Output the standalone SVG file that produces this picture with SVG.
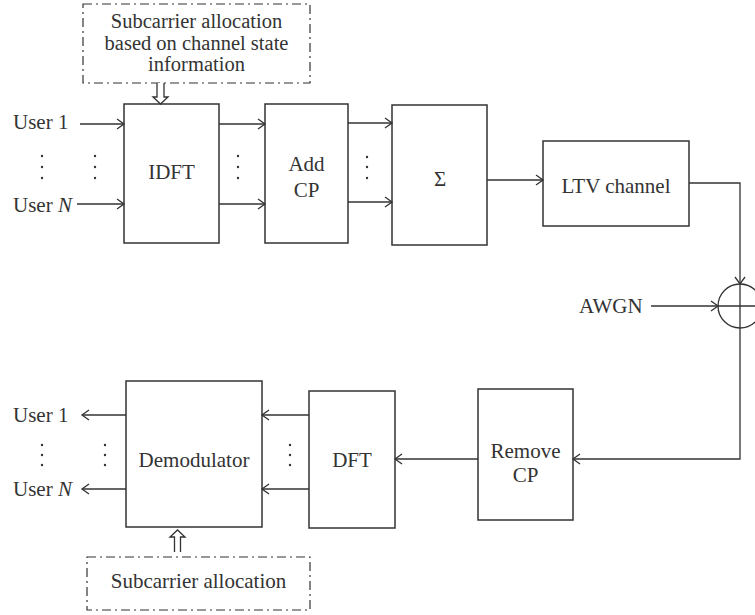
<svg xmlns="http://www.w3.org/2000/svg" width="755" height="615" viewBox="0 0 755 615" font-family="'Liberation Serif','Times New Roman',serif">
<style>
.box{fill:#fff;stroke:#333;stroke-width:1.5}
.dash{fill:none;stroke:#333;stroke-width:1.2;stroke-dasharray:9 4 2 4}
.ln{fill:none;stroke:#333;stroke-width:1.3}
.hol{fill:#fff;stroke:#333;stroke-width:1.3}
text{font-family:"Liberation Serif","Times New Roman",serif;font-size:21px;fill:#333}
.c{text-anchor:middle}
.s{font-size:20.5px}
.dot{fill:#333}
</style>
<defs>
<marker id="arr" markerUnits="userSpaceOnUse" markerWidth="12" markerHeight="12" refX="9" refY="6" orient="auto">
<path d="M2,1 L9,6 L2,11" fill="none" stroke="#333" stroke-width="1.3"/>
</marker>
</defs>
<rect width="755" height="615" fill="#fff"/>

<g id="alloc-top">
<rect class="dash" x="83" y="4" width="227" height="79"/>
<text class="c s" x="196.5" y="28">Subcarrier allocation</text>
<text class="c s" x="196.5" y="49.5">based on channel state</text>
<text class="c s" x="196.5" y="70.5">information</text>
</g>
<g id="idft">
<rect class="box" x="124" y="104" width="95" height="139"/>
<text class="c" x="171.5" y="179">IDFT</text>
</g>
<g id="addcp">
<rect class="box" x="265" y="104" width="83" height="139"/>
<text class="c" x="306.5" y="171">Add</text>
<text class="c" x="306.5" y="197">CP</text>
</g>
<g id="sum">
<rect class="box" x="392" y="105" width="95" height="140"/>
<text class="c" x="440" y="186">Σ</text>
</g>
<g id="ltv">
<rect class="box" x="543" y="141" width="146" height="85"/>
<text class="c" x="616" y="193">LTV channel</text>
</g>
<g id="adder">
<circle cx="740" cy="306" r="22" fill="#fff" stroke="#333" stroke-width="1.3"/>
<path class="ln" d="M718,306 H762 M740,284 V328"/>
</g>
<g id="awgn"><text x="579" y="313">AWGN</text></g>
<g id="removecp">
<rect class="box" x="478" y="389" width="95" height="131"/>
<text class="c" x="525.5" y="458">Remove</text>
<text class="c" x="525.5" y="482">CP</text>
</g>
<g id="dft">
<rect class="box" x="309" y="391" width="86" height="137"/>
<text class="c" x="352" y="467">DFT</text>
</g>
<g id="demod">
<rect class="box" x="126" y="381" width="136" height="146"/>
<text class="c" x="194" y="467">Demodulator</text>
</g>
<g id="alloc-bottom">
<rect class="dash" x="87" y="557" width="223" height="53"/>
<text class="c" x="198.5" y="588">Subcarrier allocation</text>
</g>
<g id="inputs">
<text x="13" y="129">User 1</text>
<text x="13" y="212">User <tspan font-style="italic">N</tspan></text>
</g>
<g id="outputs">
<text x="13" y="422">User 1</text>
<text x="13" y="496">User <tspan font-style="italic">N</tspan></text>
</g>

<g id="connectors">
<path class="hol" d="M157,83 V97 H153 L160.5,104 L168,97 H164 V83"/>
<path class="hol" d="M174.5,552 V537 H170 L177.5,530 L185,537 H180.5 V552"/>
<path class="ln" marker-end="url(#arr)" d="M80,124 H124"/>
<path class="ln" marker-end="url(#arr)" d="M77,204 H124"/>
<path class="ln" marker-end="url(#arr)" d="M219,124 H265"/>
<path class="ln" marker-end="url(#arr)" d="M219,204 H265"/>
<path class="ln" marker-end="url(#arr)" d="M348,123 H392"/>
<path class="ln" marker-end="url(#arr)" d="M348,202 H392"/>
<path class="ln" marker-end="url(#arr)" d="M487,180 H543"/>
<path class="ln" marker-end="url(#arr)" d="M689,183 H740 V284"/>
<path class="ln" marker-end="url(#arr)" d="M651,306 H718"/>
<path class="ln" marker-end="url(#arr)" d="M740,328 V459 H573"/>
<path class="ln" marker-end="url(#arr)" d="M478,459 H395"/>
<path class="ln" marker-end="url(#arr)" d="M309,415 H262"/>
<path class="ln" marker-end="url(#arr)" d="M309,489 H262"/>
<path class="ln" marker-end="url(#arr)" d="M126,415 H82"/>
<path class="ln" marker-end="url(#arr)" d="M126,489 H82"/>
</g>

<g id="ellipses">
<circle class="dot" cx="42" cy="156" r="1.2"/><circle class="dot" cx="42" cy="167" r="1.2"/><circle class="dot" cx="42" cy="178" r="1.2"/>
<circle class="dot" cx="95" cy="156" r="1.2"/><circle class="dot" cx="95" cy="167" r="1.2"/><circle class="dot" cx="95" cy="178" r="1.2"/>
<circle class="dot" cx="238" cy="156" r="1.2"/><circle class="dot" cx="238" cy="167" r="1.2"/><circle class="dot" cx="238" cy="178" r="1.2"/>
<circle class="dot" cx="367" cy="157" r="1.2"/><circle class="dot" cx="367" cy="167" r="1.2"/><circle class="dot" cx="367" cy="178" r="1.2"/>
<circle class="dot" cx="42" cy="445" r="1.2"/><circle class="dot" cx="42" cy="455" r="1.2"/><circle class="dot" cx="42" cy="465" r="1.2"/>
<circle class="dot" cx="105" cy="445" r="1.2"/><circle class="dot" cx="105" cy="455" r="1.2"/><circle class="dot" cx="105" cy="465" r="1.2"/>
<circle class="dot" cx="290" cy="445" r="1.2"/><circle class="dot" cx="290" cy="455" r="1.2"/><circle class="dot" cx="290" cy="465" r="1.2"/>
</g>
</svg>
